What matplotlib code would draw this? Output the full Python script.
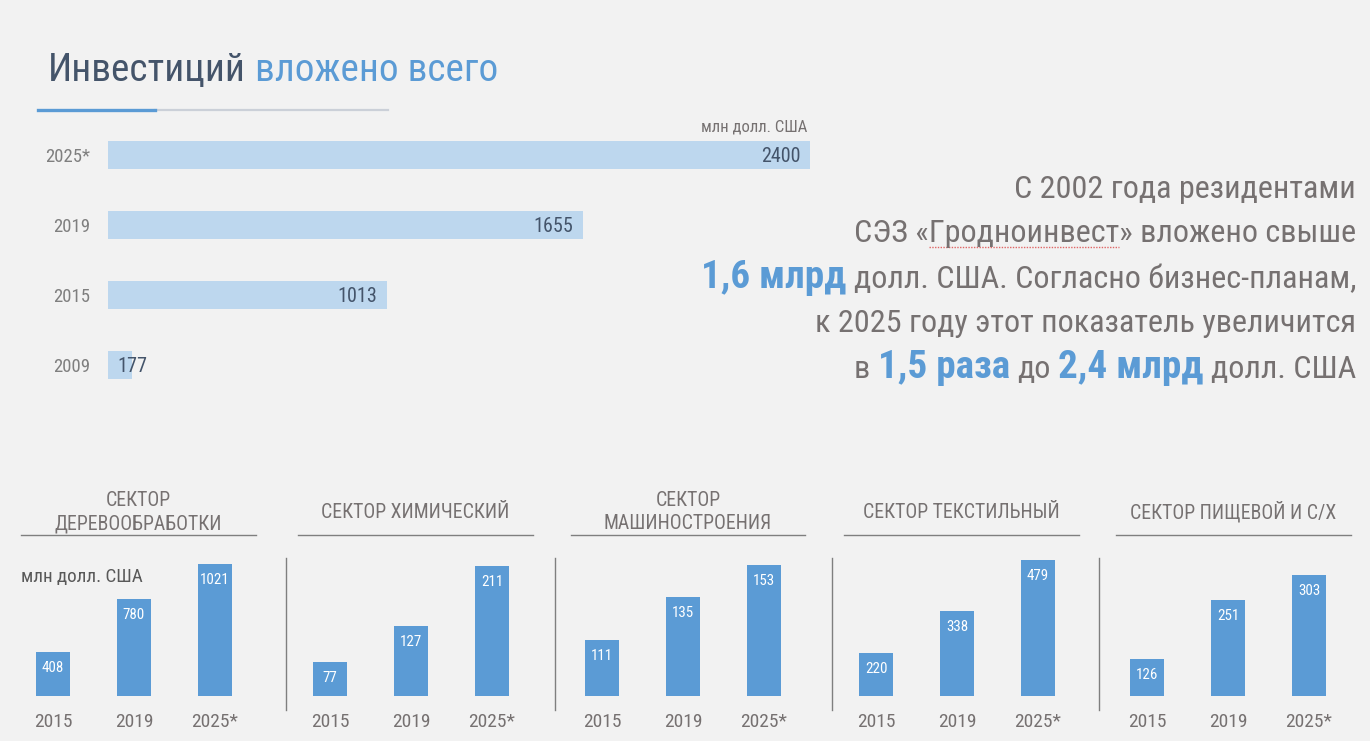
import matplotlib
matplotlib.use("Agg")
import matplotlib.pyplot as plt
from matplotlib import font_manager
from matplotlib.lines import Line2D

# Arial Narrow look-alike with Cyrillic, first one installed
cands = ['Liberation Sans Narrow', 'Arial Narrow', 'Roboto Condensed', 'PT Sans Narrow',
         'Open Sans Condensed', 'IBM Plex Sans Condensed', 'Liberation Sans']
ents = font_manager.fontManager.ttflist
FONT = 'Liberation Sans'
for c in cands:
    ws = [f.weight for f in ents if f.name == c]
    ws = [w if isinstance(w, int) else 400 for w in ws]
    if ws and max(ws) >= 600 and min(ws) <= 400:
        FONT = c
        break
plt.rcParams['font.family'] = [FONT, 'DejaVu Sans']

# ---- data ----
total_years = ['2025*', '2019', '2015', '2009']
total_values = [2400, 1655, 1013, 177]

sector_names = ['СЕКТОР\nДЕРЕВООБРАБОТКИ', 'СЕКТОР ХИМИЧЕСКИЙ', 'СЕКТОР\nМАШИНОСТРОЕНИЯ',
                'СЕКТОР ТЕКСТИЛЬНЫЙ', 'СЕКТОР ПИЩЕВОЙ И С/Х']
sector_years = ['2015', '2019', '2025*']
wood = [408, 780, 1021]
chem = [77, 127, 211]
mach = [111, 135, 153]
textile = [220, 338, 479]
food = [126, 251, 303]
sector_values = [wood, chem, mach, textile, food]
# value axis ranges of each small chart (axes do not start at zero)
sector_ylims = [(102, 1147), (29.5, 239), (79.6, 163.6), (100, 518), (48, 364)]

unit = 'млн долл. США'

# ---- style ----
W, H = 1370, 741
BG = '#f2f2f2'
DARK = '#44546a'
BLUE = '#5b9bd5'
LIGHT = '#bdd7ee'
GRAY = '#767171'
GRAY2 = '#7f7f7f'


def fx(x):
    return x / W


def fy(y):
    return 1 - y / H


fig = plt.figure(figsize=(W / 100, H / 100), dpi=100, facecolor=BG)
r = fig.canvas.get_renderer()


def space_width(size, weight='normal'):
    a = fig.text(0, 0, 'a a', fontsize=size, weight=weight)
    b = fig.text(0, 0, 'aa', fontsize=size, weight=weight)
    w = a.get_window_extent(r).width - b.get_window_extent(r).width
    a.remove()
    b.remove()
    return w


# ---- title ----
TS = 28.3
t1 = fig.text(fx(48), fy(81), 'Инвестиций', fontsize=TS, color=DARK, va='baseline')
bb = t1.get_window_extent(r)
fig.text((bb.x1 + space_width(TS)) / W, fy(81), 'вложено всего', fontsize=TS, color=BLUE,
         va='baseline')

fig.add_artist(Line2D([fx(155), fx(388)], [fy(110), fy(110)], color='#cbd0d8', lw=1.6))
fig.add_artist(Line2D([fx(38), fx(155)], [fy(110), fy(110)], color=BLUE, lw=2.4))

# ---- total investments bar chart ----
ax = fig.add_axes([fx(108), fy(400), (810 - 108) / W, 280 / H])
ax.set_facecolor('none')
ypos = list(range(len(total_years)))
ax.barh(ypos, total_values, height=0.4, color=LIGHT)
ax.set_xlim(100, 2400)
ax.set_ylim(len(total_years) - 0.5, -0.5)
ax.set_yticks(ypos, total_years)
ax.tick_params(axis='y', length=0, pad=13, labelsize=13.5, labelcolor=GRAY2)
ax.set_xticks([])
for s in ax.spines.values():
    s.set_visible(False)
for y, v in zip(ypos, total_values):
    if v > 400:
        ax.annotate(str(v), (v, y), xytext=(-6.5, 0), textcoords='offset points',
                    ha='right', va='center_baseline', fontsize=14.5, color=DARK)
    else:
        ax.annotate(str(v), (100, y), xytext=(6.5, 0), textcoords='offset points',
                    ha='left', va='center_baseline', fontsize=14.5, color=DARK)
fig.text(fx(807), fy(127), unit, fontsize=12, color=GRAY, ha='right', va='center')

# ---- right side text ----
REG = 23.2
BIG = 28.2
gap_reg = space_width(REG)


def rich_line(y, pieces):
    x = 1356
    for txt, big in reversed(pieces):
        if big:
            t = fig.text(fx(x), fy(y), txt, fontsize=BIG, color=BLUE, weight='bold',
                         ha='right', va='baseline')
        else:
            t = fig.text(fx(x), fy(y), txt, fontsize=REG, color=GRAY,
                         ha='right', va='baseline')
        x -= t.get_window_extent(r).width + gap_reg
    return t


rich_line(198, [('С 2002 года резидентами', False)])
l2 = rich_line(242, [('СЭЗ «Гродноинвест» вложено свыше', False)])
rich_line(288, [('1,6 млрд', True), ('долл. США. Согласно бизнес-планам,', False)])
rich_line(332, [('к 2025 году этот показатель увеличится', False)])
rich_line(378, [('в', False), ('1,5 раза', True), ('до', False), ('2,4 млрд', True),
                ('долл. США', False)])
# spell-check squiggle under the name
b2 = l2.get_window_extent(r)
n_all = fig.text(0, 0, 'СЭЗ «Гродноинвест', fontsize=REG)
n_pre = fig.text(0, 0, 'СЭЗ «', fontsize=REG)
x_a = b2.x0 + n_pre.get_window_extent(r).width
x_b = b2.x0 + n_all.get_window_extent(r).width
n_all.remove()
n_pre.remove()
fig.add_artist(Line2D([x_a / W, x_b / W], [fy(247), fy(247)], color='#e06666',
                      lw=1, ls=(0, (1, 1))))

# ---- sector charts ----
centers0 = [53, 330, 602, 876, 1147]
heads = [(21, 256), (298, 533), (571, 805), (844, 1079), (1116, 1351)]
seps = [286, 555, 832, 1099]
step = 81

for name, vals, lim, c0, (h1, h2) in zip(sector_names, sector_values, sector_ylims, centers0, heads):
    sa = fig.add_axes([fx(c0 - step / 2), fy(696), 3 * step / W, 150 / H])
    sa.set_facecolor('none')
    xs = list(range(len(sector_years)))
    sa.bar(xs, vals, width=0.43, color=BLUE)
    sa.set_xlim(-0.5, 2.5)
    sa.set_ylim(*lim)
    sa.set_yticks([])
    sa.set_xticks(xs, sector_years)
    sa.tick_params(axis='x', length=0, pad=12, labelsize=14, labelcolor=GRAY)
    for s in sa.spines.values():
        s.set_visible(False)
    for x, v in zip(xs, vals):
        sa.annotate(str(v), (x, v), xytext=(0, -11.5), textcoords='offset points',
                    ha='center', va='center', fontsize=10.8, color='white')
    fig.text(fx((h1 + h2) / 2), fy(512), name, fontsize=14.2, color=GRAY, ha='center',
             va='center', linespacing=1.28)
    fig.add_artist(Line2D([fx(h1), fx(h2)], [fy(535), fy(535)], color=GRAY2, lw=1))

for x in seps:
    fig.add_artist(Line2D([fx(x), fx(x)], [fy(558), fy(710)], color=GRAY2, lw=1))

fig.text(fx(21), fy(577), unit, fontsize=13.8, color='#595959', ha='left', va='center')

fig.savefig('out.png', dpi=100, facecolor=BG)
